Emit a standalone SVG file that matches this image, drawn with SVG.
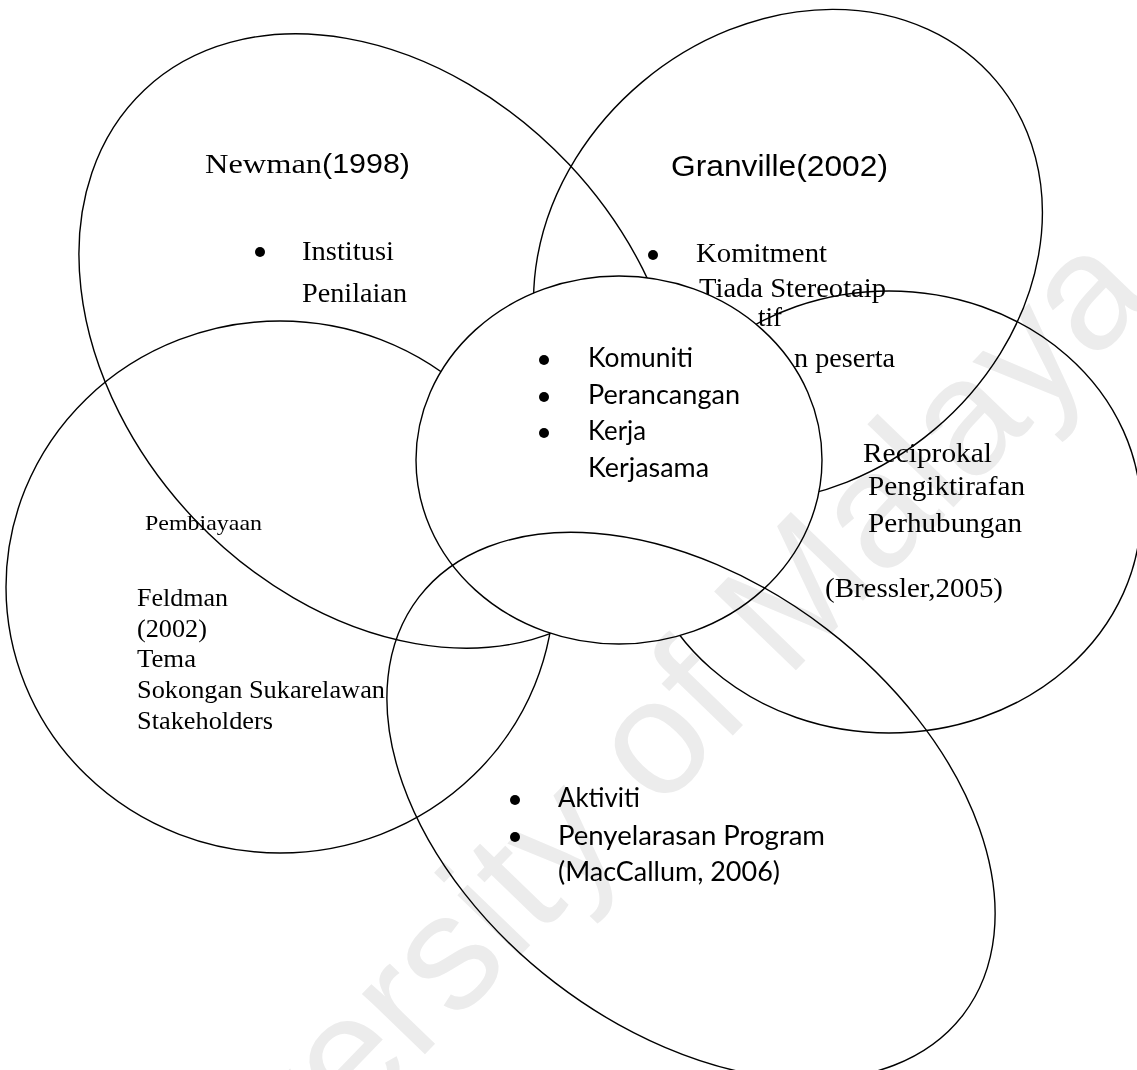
<svg xmlns="http://www.w3.org/2000/svg" width="1137" height="1070" viewBox="0 0 1137 1070">
<style>
.ring{fill:none;stroke:#000;stroke-width:1.4}
.core{fill:#fff;stroke:#000;stroke-width:1.4}
.tnr{font-family:"Liberation Serif","Times New Roman",serif;fill:#000}
.ari{font-family:"Liberation Sans",Arial,sans-serif;fill:#000}
.cal{font-family:Lato,"Open Sans",sans-serif;fill:#000}
.dot{fill:#000}
.wm{font-family:"Liberation Sans",Arial,sans-serif;fill:#ececec;mix-blend-mode:multiply}
</style>
<rect width="1137" height="1070" fill="#fff"/>

<g id="granville">
<ellipse class="ring" cx="788" cy="256" rx="272" ry="227" transform="rotate(-40 788 256)"/>
<text class="ari" x="671" y="176" font-size="30" textLength="217" lengthAdjust="spacingAndGlyphs">Granville(2002)</text>
<circle class="dot" cx="653" cy="255" r="5"/>
<text class="tnr" x="696" y="262" font-size="28" textLength="131" lengthAdjust="spacingAndGlyphs">Komitment</text>
<text class="tnr" x="699" y="297" font-size="28" textLength="187" lengthAdjust="spacingAndGlyphs">Tiada Stereotaip</text>
<text class="tnr" x="758" y="326" font-size="28" textLength="24" lengthAdjust="spacingAndGlyphs">tif</text>
<text class="tnr" x="794" y="367" font-size="28" textLength="101" lengthAdjust="spacingAndGlyphs">n peserta</text>
</g>

<g id="bressler">
<ellipse class="ring" cx="889" cy="512" rx="252" ry="221"/>
<text class="tnr" x="863" y="462" font-size="28" textLength="129" lengthAdjust="spacingAndGlyphs">Reciprokal</text>
<text class="tnr" x="868" y="495" font-size="28" textLength="157" lengthAdjust="spacingAndGlyphs">Pengiktirafan</text>
<text class="tnr" x="868" y="532" font-size="28" textLength="154" lengthAdjust="spacingAndGlyphs">Perhubungan</text>
<text class="tnr" x="825" y="597" font-size="28" textLength="178" lengthAdjust="spacingAndGlyphs">(Bressler,2005)</text>
</g>

<g id="newman">
<ellipse class="ring" cx="381" cy="341" rx="345" ry="258" transform="rotate(46.7 381 341)"/>
<text class="tnr" x="205" y="173" font-size="28" textLength="117" lengthAdjust="spacingAndGlyphs">Newman</text>
<text class="ari" x="322" y="173" font-size="28" textLength="88" lengthAdjust="spacingAndGlyphs">(1998)</text>
<circle class="dot" cx="260" cy="252" r="5"/>
<text class="tnr" x="302" y="260" font-size="28" textLength="92" lengthAdjust="spacingAndGlyphs">Institusi</text>
<text class="tnr" x="302" y="302" font-size="28" textLength="105" lengthAdjust="spacingAndGlyphs">Penilaian</text>
</g>

<g id="feldman">
<ellipse class="ring" cx="280" cy="587" rx="274" ry="266"/>
<text class="tnr" x="145" y="530" font-size="22" textLength="117" lengthAdjust="spacingAndGlyphs">Pembiayaan</text>
<text class="tnr" x="137" y="606" font-size="26" textLength="91" lengthAdjust="spacingAndGlyphs">Feldman</text>
<text class="tnr" x="137" y="637" font-size="26" textLength="70" lengthAdjust="spacingAndGlyphs">(2002)</text>
<text class="tnr" x="137" y="667" font-size="26" textLength="59" lengthAdjust="spacingAndGlyphs">Tema</text>
<text class="tnr" x="137" y="698" font-size="26" textLength="248" lengthAdjust="spacingAndGlyphs">Sokongan Sukarelawan</text>
<text class="tnr" x="137" y="729" font-size="26" textLength="136" lengthAdjust="spacingAndGlyphs">Stakeholders</text>
</g>

<g id="center">
<ellipse class="core" cx="619" cy="460" rx="203" ry="184"/>
<circle class="dot" cx="544" cy="360" r="5"/>
<circle class="dot" cx="544" cy="397" r="5"/>
<circle class="dot" cx="544" cy="433" r="5"/>
<text class="cal" x="588" y="367" font-size="26" textLength="105" lengthAdjust="spacingAndGlyphs">Komuniti</text>
<text class="cal" x="588" y="404" font-size="26" textLength="152" lengthAdjust="spacingAndGlyphs">Perancangan</text>
<text class="cal" x="588" y="440" font-size="26" textLength="58" lengthAdjust="spacingAndGlyphs">Kerja</text>
<text class="cal" x="588" y="477" font-size="26" textLength="121" lengthAdjust="spacingAndGlyphs">Kerjasama</text>
</g>

<g id="maccallum">
<ellipse class="ring" cx="691" cy="806" rx="343" ry="223" transform="rotate(37.5 691 806)"/>
<circle class="dot" cx="515" cy="800" r="5"/>
<circle class="dot" cx="515" cy="837" r="5"/>
<text class="cal" x="558" y="807" font-size="26" textLength="82" lengthAdjust="spacingAndGlyphs">Aktiviti</text>
<text class="cal" x="558" y="845" font-size="26" textLength="267" lengthAdjust="spacingAndGlyphs">Penyelarasan Program</text>
<text class="cal" x="558" y="881" font-size="26" textLength="222" lengthAdjust="spacingAndGlyphs">(MacCallum, 2006)</text>
</g>

<g id="connectors"/>

<text class="wm" x="0" y="0" font-size="165" transform="translate(124 1366) rotate(-46)">University of Malaya</text>
</svg>
